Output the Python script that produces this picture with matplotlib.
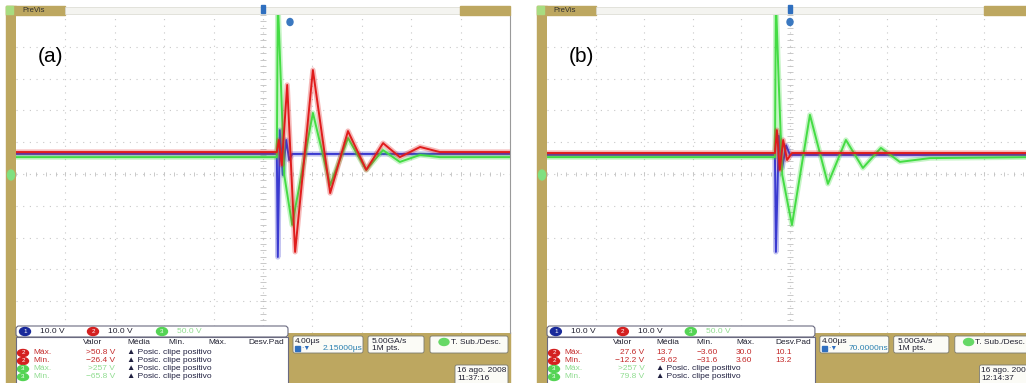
import matplotlib.pyplot as plt
from matplotlib.patches import Rectangle, FancyBboxPatch, Ellipse

plt.rcParams['font.family'] = ['Liberation Sans', 'DejaVu Sans']

# --- traces in divisions (4.00us/div, centre = 0) ---
# panel (a)
a_red_t = [-5.0, 0.28, 0.32, 0.38, 0.49, 0.65, 1.01, 1.36, 1.72, 2.09, 2.43, 2.77, 3.18, 3.58, 5.0]
a_red_v = [0.69, 0.69, 1.07, 0.28, 2.80, -2.45, 3.27, -0.60, 1.35, 0.13, 0.97, 0.53, 0.85, 0.69, 0.69]
a_grn_t = [-5.0, 0.28, 0.30, 0.36, 0.43, 0.59, 1.01, 1.36, 1.72, 2.09, 2.43, 2.77, 3.18, 3.58, 5.0]
a_grn_v = [0.53, 0.53, 5.5, 2.96, -0.03, -1.60, 1.92, -0.35, 1.13, 0.13, 0.75, 0.38, 0.60, 0.53, 0.53]
a_blu_t = [-5.0, 0.28, 0.30, 0.34, 0.40, 0.47, 0.53, 0.59, 5.0]
a_blu_v = [0.63, 0.63, -2.61, 1.38, -0.03, 1.07, 0.44, 0.63, 0.63]

# panel (b)
b_red_t = [-5.0, -0.31, -0.27, -0.21, -0.14, -0.06, 0.04, 5.0]
b_red_v = [0.66, 0.66, 1.38, 0.13, 1.07, 0.44, 0.66, 0.66]
b_grn_t = [-5.0, -0.31, -0.29, -0.23, -0.16, 0.04, 0.41, 0.78, 1.15, 1.50, 1.87, 2.26, 2.88, 5.0]
b_grn_v = [0.53, 0.53, 5.5, 2.80, -0.03, -1.60, 1.86, -0.31, 1.07, 0.19, 0.82, 0.38, 0.50, 0.53]
b_blu_t = [-5.0, -0.31, -0.29, -0.23, -0.16, -0.08, 0.0, 5.0]
b_blu_v = [0.60, 0.60, -2.45, 1.20, 0.20, 0.90, 0.60, 0.60]

# --- readouts ---
chan_scales = ['10.0 V', '10.0 V', '50.0 V']
col_heads = ['Valor', 'Média', 'Mín.', 'Máx.', 'Desv.Pad']
meas_labels = ['Máx.', 'Mín.', 'Máx.', 'Mín.']
meas_chan = [2, 2, 3, 3]
a_valor = ['>50.8 V', '−26.4 V', '>257 V', '−65.8 V']
a_stats = [None, None, None, None]
b_valor = ['27.6 V', '−12.2 V', '>257 V', '79.8 V']
b_stats = [['13.7', '−3.60', '30.0', '10.1'], ['−9.62', '−31.6', '3.60', '13.2'], None, None]
a_delay = '2.15000µs'
b_delay = '70.0000ns'
a_time = '11:37:16'
b_time = '12:14:37'

TAN = '#bda760'
RED = '#e01c1c'
GREEN = '#44dc44'
BLUE = '#3a3ad0'
CH_COL = {1: '#1a2a9a', 2: '#d42020', 3: '#55d455'}
TXT_COL = {2: '#c42a2a', 3: '#8fdc8f'}

W, H = 1026, 383
TOP, BOT = 15, 333

fig = plt.figure(figsize=(W / 100, H / 100), dpi=100)
bg = fig.add_axes([0, 0, 1, 1], zorder=0)
fg = fig.add_axes([0, 0, 1, 1], zorder=3)
for a in (bg, fg):
    a.set_xlim(0, W)
    a.set_ylim(H, 0)
    a.axis('off')


def panel(x0, width, s, traces, label, valor, stats, delay, clock, tmark, umark):
    # frame pieces behind the screen
    bg.add_patch(Rectangle((x0 - 10, 6), 10, H, color=TAN))
    bg.add_patch(Rectangle((x0 + 272 * s, BOT - 1), width - 272 * s, H, color=TAN))

    ax = fig.add_axes([x0 / W, 1 - BOT / H, width / W, (BOT - TOP) / H], zorder=1)
    ax.set_xlim(-5, 5)
    ax.set_ylim(-5, 5)
    ax.set_xticks([])
    ax.set_yticks([])
    for sp in ['left', 'top', 'bottom']:
        ax.spines[sp].set_visible(False)
    ax.spines['right'].set_color('#9a9a9a')
    ax.spines['right'].set_linewidth(0.8)
    for k in range(-4, 5):
        ax.axvline(k, color='#c8c8c8', lw=0.8, ls=(0, (1, 5)), zorder=0)
        ax.axhline(k, color='#c8c8c8', lw=0.8, ls=(0, (1, 5)), zorder=0)
    ticks = [i * 0.2 for i in range(-25, 26)]
    ax.vlines(ticks, -0.07, 0.07, color='#c0c0c0', lw=0.6, zorder=0)
    ax.hlines(ticks, -0.07, 0.07, color='#c0c0c0', lw=0.6, zorder=0)
    for t, v, c, z in traces:
        ax.plot(t, v, color=c, lw=3.8, alpha=0.3, zorder=z, solid_joinstyle='round')
        ax.plot(t, v, color=c, lw=1.4, zorder=z + 0.5, solid_joinstyle='round')
    ax.text(0.045, 0.87, label, transform=ax.transAxes, fontsize=15, va='center', ha='left')

    # top bar
    fg.add_patch(Rectangle((x0 - 10, 6), 59, 9, color=TAN))
    fg.add_patch(Rectangle((x0 - 10, 6), 7, 8, color='#a8dc80'))
    fg.add_patch(Rectangle((x0 + 49, 7), 395 * s, 7, facecolor='#f4f4f0', edgecolor='#d8d8d0', lw=0.5))
    fg.add_patch(Rectangle((x0 + 444 * s, 6), width - 444 * s, 9, color=TAN))
    fg.text(x0 + 6, 10.5, 'PreVis', fontsize=5.5, color='#303030', va='center')
    fg.add_patch(Rectangle((tmark - 2, 5), 4, 8, color='#2f6fbf'))
    fg.add_patch(Ellipse((umark, 22), 6, 7, color='#3a78c0'))
    fg.add_patch(Ellipse((x0 - 5, 175), 7, 10, color='#80e080'))

    # channel strip
    fg.add_patch(FancyBboxPatch((x0, 326), 272 * s, 11, boxstyle='round,pad=0,rounding_size=3',
                                facecolor='white', edgecolor='#6a6a80', lw=0.8))
    for i, (ch, sc) in enumerate(zip([1, 2, 3], chan_scales)):
        bx = x0 + [9, 77, 146][i] * s
        fg.add_patch(Ellipse((bx, 331.5), 11, 8, color=CH_COL[ch]))
        fg.text(bx, 331.5, str(ch), fontsize=4.5, color='white', ha='center', va='center')
        fg.text(bx + 15 * s, 331.5, sc, fontsize=6, va='center',
                color='#202030' if ch < 3 else '#8fdc8f')

    # measurement table
    fg.add_patch(Rectangle((x0, 337), 272 * s, 50, facecolor='white', edgecolor='#6a6a80', lw=0.8))
    for hx, hd in zip([67, 111, 152, 192, 232], col_heads):
        fg.text(x0 + hx * s, 343, hd, fontsize=6, color='#202030', va='center')
    for r in range(4):
        y = 353 + 8 * r
        ch = meas_chan[r]
        fg.add_patch(Ellipse((x0 + 7, y), 11, 7, color=CH_COL[ch]))
        fg.text(x0 + 7, y, str(ch), fontsize=4.5, color='white', ha='center', va='center')
        fg.text(x0 + 17, y, meas_labels[r], fontsize=6, color=TXT_COL[ch], va='center')
        fg.text(x0 + 99 * s, y, valor[r], fontsize=6, color=TXT_COL[ch], va='center', ha='right')
        if stats[r] is None:
            fg.text(x0 + 111 * s, y, '▲ Posic. clipe positivo', fontsize=6, color='#202040', va='center')
        else:
            for cx, val in zip([111, 152, 192, 232], stats[r]):
                fg.text(x0 + cx * s, y, val, fontsize=6, color=TXT_COL[ch], va='center')

    # timebase / acquisition boxes
    def box(rx, w, y, h):
        fg.add_patch(FancyBboxPatch((x0 + rx * s, y), w * s, h, boxstyle='round,pad=0,rounding_size=2',
                                    facecolor='#fbfbf6', edgecolor='#7a7a70', lw=0.6))
    box(277, 70, 336, 17)
    fg.text(x0 + 279 * s, 341.5, '4.00µs', fontsize=6, color='#202030', va='center')
    fg.add_patch(Rectangle((x0 + 279 * s, 345.5), 5, 5, color='#2f6fbf'))
    fg.text(x0 + 285 * s, 348, '·▼', fontsize=5, color='#2f6fbf', va='center')
    fg.text(x0 + 346 * s, 348, delay, fontsize=6, color='#2a80b0', va='center', ha='right')
    box(352, 56, 336, 17)
    fg.text(x0 + 356 * s, 341.5, '5.00GA/s', fontsize=6, color='#202030', va='center')
    fg.text(x0 + 356 * s, 348, '1M pts.', fontsize=6, color='#202030', va='center')
    box(414, 78, 336, 17)
    fg.add_patch(Ellipse((x0 + 428 * s, 342), 10, 7, color='#66d866'))
    fg.text(x0 + 435 * s, 342, 'T. Sub./Desc.', fontsize=6, color='#202030', va='center')
    box(439, 53, 365, 22)
    fg.text(x0 + 441 * s, 370.5, '16 ago. 2008', fontsize=6, color='#202030', va='center')
    fg.text(x0 + 441 * s, 378, clock, fontsize=6, color='#202030', va='center')


panel(16, 494, 1.0,
      [(a_blu_t, a_blu_v, BLUE, 2), (a_grn_t, a_grn_v, GREEN, 3), (a_red_t, a_red_v, RED, 4)],
      '(a)', a_valor, a_stats, a_delay, a_time, 263, 290)
panel(547, 486, 0.985,
      [(b_blu_t, b_blu_v, BLUE, 2), (b_grn_t, b_grn_v, GREEN, 3), (b_red_t, b_red_v, RED, 4)],
      '(b)', b_valor, b_stats, b_delay, b_time, 790, 790)

fig.savefig('out.png', dpi=100)
